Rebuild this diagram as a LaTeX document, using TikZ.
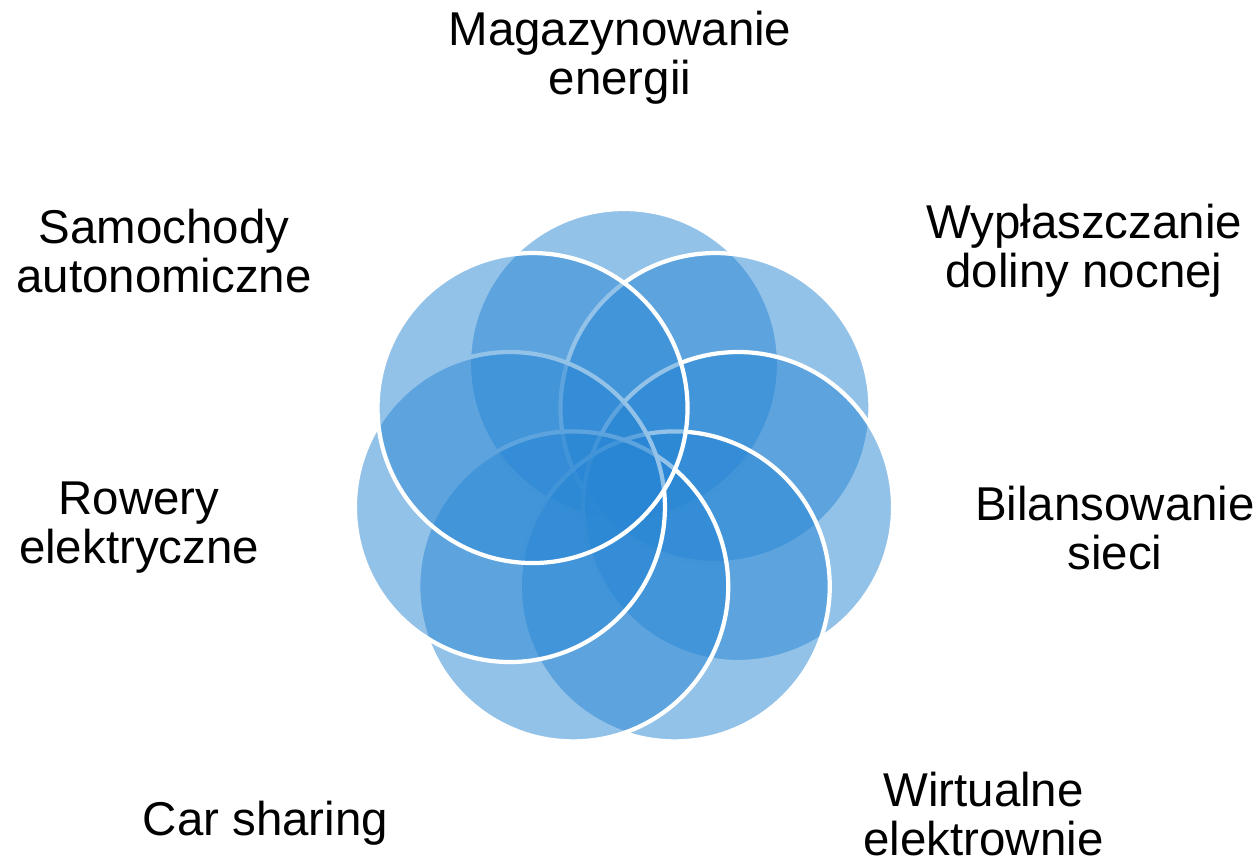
\documentclass[tikz,border=0pt]{standalone}
\usepackage{fontspec}
\setmainfont{Liberation Sans}
\usepackage{tikz}
\usepackage{xcolor}
\definecolor{petalblue}{RGB}{40,134,212}

\tikzset{
    petal/.style={fill=petalblue,fill opacity=0.5,draw=white,draw opacity=1,line width=2.4pt},
    itemtext/.style={align=center,inner sep=0pt,font=\fontsize{27}{27.8}\selectfont}
}

\begin{document}
\begin{tikzpicture}
        \useasboundingbox (0,0) rectangle (25.2,17.32);
        \coordinate (c) at (12.48,7.70);
        % petals, clockwise from the top
        \filldraw[petal] (c) ++(90:2.34) circle (3.1);
        \filldraw[petal] (c) ++(38.571:2.34) circle (3.1);
        \filldraw[petal] (c) ++(-12.857:2.34) circle (3.1);
        \filldraw[petal] (c) ++(-64.286:2.34) circle (3.1);
        \filldraw[petal] (c) ++(-115.714:2.34) circle (3.1);
        \filldraw[petal] (c) ++(-167.143:2.34) circle (3.1);
        \filldraw[petal] (c) ++(141.429:2.34) circle (3.1);
        % labels
        \node[itemtext] (mag) at (12.40,16.16) {Magazynowanie\\energii};
        \node[itemtext] (wyp) at (21.68,12.30) {Wypłaszczanie\\doliny nocnej};
        \node[itemtext] (bil) at (22.30,6.76) {Bilansowanie\\sieci};
        \node[itemtext] (wir) at (19.67,1.04) {Wirtualne\\elektrownie};
        \node[itemtext] (car) at (5.31,0.86) {Car sharing};
        \node[itemtext] (row) at (2.78,6.76) {Rowery\\elektryczne};
        \node[itemtext] (sam) at (3.28,12.30) {Samochody\\autonomiczne};
    \end{tikzpicture}
\end{document}
